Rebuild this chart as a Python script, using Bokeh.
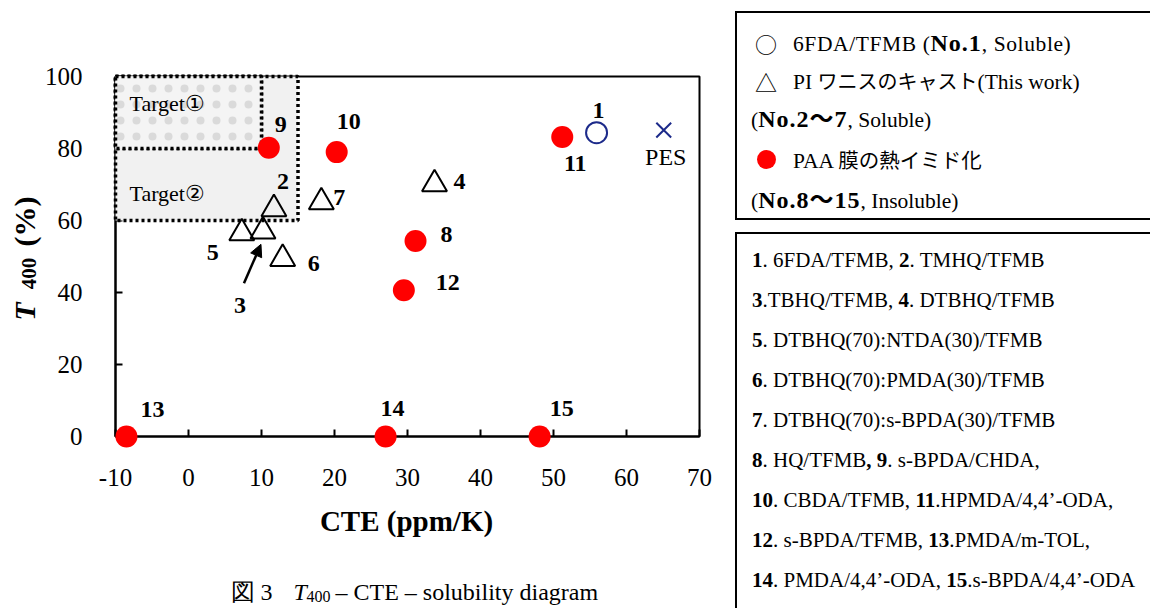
import numpy as np
from bokeh.plotting import figure
from bokeh.models import Range1d, FixedTicker, Arrow, NormalHead, Div, ColumnDataSource
from bokeh.layouts import row
from bokeh.core.properties import value
from bokeh.embed import file_html
from bokeh.resources import INLINE

# ---------------- data ----------------
x_ticks = [-10, 0, 10, 20, 30, 40, 50, 60, 70]
y_ticks = [0, 20, 40, 60, 80, 100]

sol_no = ["1"]
sol_cte = [55.9]
sol_t400 = [84.4]

pes_name = ["PES"]
pes_cte = [65.1]
pes_t400 = [85.1]

pi_no = ["2", "3", "4", "5", "6", "7"]
pi_cte = [11.7, 10.2, 33.7, 7.3, 12.9, 18.2]
pi_t400 = [63.2, 57.0, 70.1, 56.5, 49.4, 65.1]

paa_no = ["8", "9", "10", "11", "12", "13", "14", "15"]
paa_cte = [31.1, 11.0, 20.3, 51.2, 29.5, -8.5, 27.0, 48.1]
paa_t400 = [54.3, 80.2, 79.0, 83.2, 40.6, 0, 0, 0]

target_names = ["Target\u2461", "Target\u2460"]
target_cte_min = [-10, -10]
target_cte_max = [15, 10]
target_t400_min = [60, 80]
target_t400_max = [100, 100]

# ---------------- layout / style ----------------
XL, XR, YB, YT = -10, 70, 0, 100
W, H = 735, 608
FL, FR, FT, FB = 115, 699, 76, 436   # frame edges (page px)
KX = (XR - XL) / (FR - FL)
KY = (YT - YB) / (FB - FT)

def px_x(px):
    return XL + (px - FL) * KX

def px_y(py):
    return YB + (FB - py) * KY

SERIF = "Liberation Serif"

p = figure(width=W, height=H, x_range=Range1d(XL, XR), y_range=Range1d(YB, YT),
           output_backend="svg", toolbar_location=None,
           min_border_left=FL, min_border_right=W - FR,
           min_border_top=FT, min_border_bottom=H - FB)
p.background_fill_color = "white"
p.border_fill_color = "white"
p.outline_line_color = "black"
p.outline_line_width = 2
p.xgrid.visible = False
p.ygrid.visible = False

for ax, ticks in ((p.xaxis, x_ticks), (p.yaxis, y_ticks)):
    ax.ticker = FixedTicker(ticks=ticks)
    ax.major_label_overrides = {t: str(t) for t in ticks}
    ax.axis_line_width = 2
    ax.axis_line_color = "black"
    ax.major_tick_line_width = 2
    ax.major_tick_line_color = "black"
    ax.major_tick_in = 7
    ax.major_tick_out = 0
    ax.minor_tick_in = 0
    ax.minor_tick_out = 0
    ax.major_label_text_font = SERIF
    ax.major_label_text_font_size = "25px"
    ax.major_label_text_color = "black"
p.xaxis.major_label_standoff = 32
p.yaxis.major_label_standoff = 33

# target regions
tsrc = ColumnDataSource(dict(left=target_cte_min, right=target_cte_max,
                             bottom=target_t400_min, top=target_t400_max,
                             name=target_names, yoff=[-27, -45]))
r = p.quad(left="left", right="right", bottom="bottom", top="top", source=tsrc,
           fill_color="#f1f1f1", line_color="black", line_width=3.5, line_dash="3 3")
r.level = "overlay"
r1 = p.quad(left=target_cte_min[1:], right=target_cte_max[1:], bottom=target_t400_min[1:],
            top=target_t400_max[1:], fill_color="#f4f4f4", hatch_pattern="dot",
            hatch_color="#dadada", hatch_scale=16, hatch_weight=1,
            line_color="black", line_width=3.5, line_dash="3 3")
r1.level = "overlay"
t = p.text(x="left", y="bottom", text="name", source=tsrc, x_offset=14,
           y_offset="yoff", text_font=value(SERIF), text_font_size="22px",
           text_align="left", text_baseline="middle", text_color="black")
t.level = "overlay"

# markers
m1 = p.scatter(paa_cte, paa_t400, marker="circle", size=22, fill_color="#ff0000", line_color=None)
m2 = p.scatter(pi_cte, pi_t400, marker="triangle", size=25, fill_color=None,
               line_color="black", line_width=2)
m3 = p.scatter(sol_cte, sol_t400, marker="circle", size=21, fill_color=None,
               line_color="#1c2a8a", line_width=2)
m4 = p.scatter(pes_cte, pes_t400, marker="x", size=21, line_color="#1c2a8a", line_width=2)
for m in (m1, m2, m3, m4):
    m.level = "overlay"

# point labels (pixel offsets)
paa_off = [(31, -7), (12, -23), (12, -31), (13, 27), (44, -8), (26, -27), (7, -28), (22, -28)]
pi_off = [(9, -27), (-23, 74), (25, -3), (-29, 19), (31, 5), (18, -5)]
sol_off = [(2, -22)]
pes_off = [(2, 27)]

def labels(xs, ys, txt, off, style):
    g = p.text(x=xs, y=ys, text=txt, x_offset=[o[0] for o in off], y_offset=[o[1] for o in off],
               text_font=value(SERIF), text_font_style=style, text_font_size="24px",
               text_align="center", text_baseline="middle", text_color="black")
    g.level = "overlay"

labels(paa_cte, paa_t400, paa_no, paa_off, "bold")
labels(pi_cte, pi_t400, pi_no, pi_off, "bold")
labels(sol_cte, sol_t400, sol_no, sol_off, "bold")
labels(pes_cte, pes_t400, pes_name, pes_off, "normal")

# arrow pointing to No.3
i3 = pi_no.index("3")
p.add_layout(Arrow(end=NormalHead(size=12, fill_color="black", line_color="black"),
                   x_start=pi_cte[i3] - 19 * KX, y_start=pi_t400[i3] - 52 * KY,
                   x_end=pi_cte[i3] - 2 * KX, y_end=pi_t400[i3] - 13 * KY,
                   line_width=2.5, line_color="black", level="overlay"))

# texts outside the frame (unclipped overlay text glyphs)
def gtext(px, py, text, size, style="normal", angle=0.0, align="center"):
    g = p.text(x=[px_x(px)], y=[px_y(py)], text=[text], angle=angle,
               text_font=value(SERIF), text_font_style=style, text_font_size=size,
               text_align=align, text_baseline="middle", text_color="black")
    g.level = "overlay"

gtext(406, 520, "CTE (ppm/K)", "29px", "bold")
gtext(24, 311, "T", "30px", "bold italic", np.pi / 2)
gtext(28, 273, "400", "21px", "bold", np.pi / 2)
gtext(24, 221, "(%)", "30px", "bold", np.pi / 2)

cap_y = 591
gtext(230, cap_y, "\u56f3 3", "24px", align="left")
gtext(293, cap_y, "T", "24px", "italic", align="left")
gtext(306, cap_y + 5, "400", "16px", align="left")
gtext(335, cap_y, "\u2013 CTE \u2013 solubility diagram", "24px", align="left")

# ---------------- legend panel ----------------
def ln(top, left, html, size=None, extra=""):
    fs = f"font-size:{size}px;" if size else ""
    return (f'<div style="position:absolute;left:{left}px;top:{top}px;white-space:nowrap;'
            f'line-height:30px;height:30px;{fs}{extra}">{html}</div>')

sym = "font-family:'Noto Sans CJK JP';"
jp = "font-family:'Noto Sans CJK JP';font-size:20px;"
bw = 'style="font-size:24px;letter-spacing:1px;"'
B1 = 21.5
box1 = [
    ln(28, 20, f'<span style="{sym}">\u25cb</span>', 22),
    ln(28, 58, f'6FDA/TFMB (<b {bw}>No.1</b>, Soluble)', B1, "letter-spacing:0.6px;"),
    ln(66, 20, f'<span style="{sym}">\u25b3</span>', 22),
    ln(66, 58, f'PI <span style="{jp}">\u30ef\u30cb\u30b9\u306e\u30ad\u30e3\u30b9\u30c8</span>(This work)', B1),
    ln(104, 16, f'(<b {bw}>No.2\uff5e7</b>, Soluble)', B1),
    ln(144, 22, '<span style="display:inline-block;width:19px;height:19px;border-radius:50%;'
                'background:#ff0000;vertical-align:-3px;"></span>', 22),
    ln(144, 58, f'PAA <span style="{jp}font-size:20.5px;">\u819c\u306e\u71b1\u30a4\u30df\u30c9\u5316</span>', B1),
    ln(185, 16, f'(<b {bw}>No.8\uff5e15</b>, Insoluble)', B1),
]
box2_lines = [
    '<b>1</b>. 6FDA/TFMB, <b>2</b>. TMHQ/TFMB',
    '<b>3</b>.TBHQ/TFMB, <b>4</b>. DTBHQ/TFMB',
    '<b>5</b>. DTBHQ(70):NTDA(30)/TFMB',
    '<b>6</b>. DTBHQ(70):PMDA(30)/TFMB',
    '<b>7</b>. DTBHQ(70):s-BPDA(30)/TFMB',
    '<b>8</b>. HQ/TFMB<b>, 9</b>. s-BPDA/CHDA,',
    '<b>10</b>. CBDA/TFMB, <b>11</b>.HPMDA/4,4\u2019-ODA,',
    '<b>12</b>. s-BPDA/TFMB, <b>13</b>.PMDA/m-TOL,',
    '<b>14</b>. PMDA/4,4\u2019-ODA, <b>15</b>.s-BPDA/4,4\u2019-ODA',
]
box2 = [ln(245 + 40 * i, 17, s, 21) for i, s in enumerate(box2_lines)]

DW = 1150 - W
html = (
    f'<div style="position:relative;width:{DW}px;height:{H}px;overflow:hidden;'
    f"font-family:'{SERIF}','Noto Sans CJK JP',serif;font-size:22px;color:black;\">"
    '<div style="position:absolute;left:0;top:11px;width:460px;height:209px;'
    'border:2px solid black;"></div>'
    '<div style="position:absolute;left:0;top:232px;width:460px;height:420px;'
    'border:2px solid black;"></div>'
    + "".join(box1) + "".join(box2) +
    '</div>'
)
div = Div(text=html, width=DW, height=H, margin=0)

layout = row(p, div)
open("out.html", "w").write(file_html(layout, INLINE))
